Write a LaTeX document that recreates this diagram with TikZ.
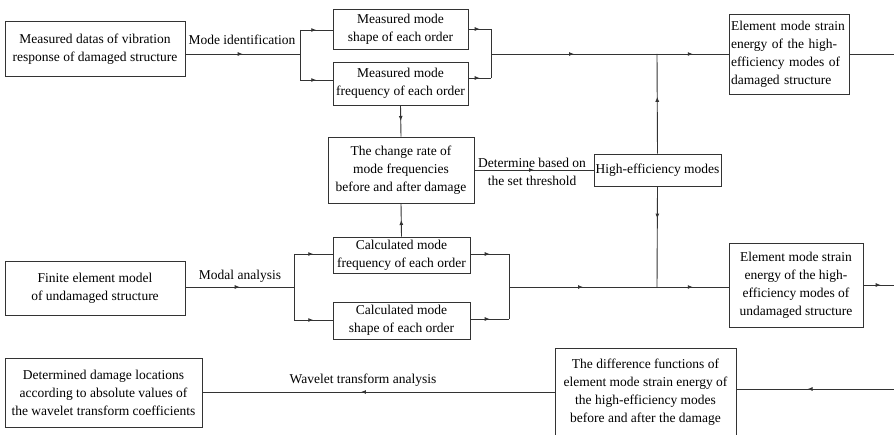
\documentclass[tikz,border=0pt]{standalone}
\usepackage{fontspec}
\setmainfont{Liberation Serif}
\usepackage{tikz}
\usetikzlibrary{arrows.meta, decorations.markings}

\tikzset{
  box/.style={draw=black!80, line width=0.9pt, align=center, inner sep=0pt, font=\fontsize{13.5}{18}\selectfont},
  lbl/.style={inner sep=0pt, align=center, font=\fontsize{13.5}{18}\selectfont},
  ln/.style={draw=black!80, line width=0.9pt},
  flow/.style={ln, postaction={decorate}, decoration={markings, mark=at position #1 with {\arrow{Latex[length=5pt,width=4pt]}}}},
  flow/.default=0.5
}

\begin{document}
\begin{tikzpicture}[x=1pt, y=-1pt]
\useasboundingbox (0,0) rectangle (894,435);

\node[box, minimum width=180, minimum height=55] (meas) at (95,49) {Measured datas of vibration\\response of damaged structure};
\node[box, minimum width=135, minimum height=40] (mshape) at (400.5,29) {Measured mode\\shape of each order};
\node[box, minimum width=135, minimum height=43] (mfreq) at (400.5,83.5) {Measured mode\\frequency of each order};
\node[box, minimum width=146, minimum height=66] (rate) at (401,170) {The change rate of\\mode frequencies\\before and after damage};
\node[box, minimum width=127, minimum height=32] (high) at (657.5,170) {High-efficiency modes};
\node[box, minimum width=120, minimum height=80, text width=116, align=left] (edam) at (789,54) {Element mode strain\\energy of the high-\\efficiency modes of\\damaged structure};

\node[box, minimum width=180, minimum height=54] (fem) at (95,288) {Finite element model\\of undamaged structure};
\node[box, minimum width=137, minimum height=36] (cfreq) at (401.5,255) {Calculated mode\\frequency of each order};
\node[box, minimum width=137, minimum height=37] (cshape) at (401.5,320.5) {Calculated mode\\shape of each order};
\node[box, minimum width=134, minimum height=84] (eund) at (796,285) {Element mode strain\\energy of the high-\\efficiency modes of\\undamaged structure};

\node[box, minimum width=181, minimum height=88] (diff) at (645.5,392) {The difference functions of\\element mode strain energy of\\the high-efficiency modes\\before and after the damage};
\node[box, minimum width=197, minimum height=69] (loc) at (103.5,392.5) {Determined damage locations\\according to absolute values of\\the wavelet transform coefficients};

\node[lbl] (modeid) at (242,40) {Mode identification};
\node[lbl] (thresh) at (532,172) {Determine based on\\the set threshold};
\node[lbl] (modal) at (240,276) {Modal analysis};
\node[lbl] (wave) at (363,380) {Wavelet transform analysis};

\coordinate (s1) at (300,54);
\coordinate (s1a) at (300,30);
\coordinate (s1b) at (300,80);
\coordinate (m1) at (491,54);
\coordinate (m1a) at (491,29);
\coordinate (m1b) at (491,78);
\coordinate (j1) at (657,54);
\coordinate (s2) at (294,287);
\coordinate (s2a) at (294,254);
\coordinate (s2b) at (294,320);
\coordinate (m2) at (509,287);
\coordinate (m2a) at (509,254);
\coordinate (m2b) at (509,319);
\coordinate (j2) at (657,287);
\coordinate (r1) at (898,54);
\coordinate (r2) at (898,285);
\coordinate (r3) at (898,389);

\draw[flow] (meas.east |- s1) -- (s1);
\draw[ln] (s1a) -- (s1b);
\draw[flow] (s1a) -- (s1a -| mshape.west);
\draw[flow] (s1b) -- (s1b -| mfreq.west);
\draw[flow] (mshape.east |- m1a) -- (m1a);
\draw[flow] (mfreq.east |- m1b) -- (m1b);
\draw[ln] (m1a) -- (m1b);
\draw[flow] (m1) -- (j1);
\draw[flow] (j1) -- (j1 -| edam.west);
\draw[flow=0.57] (high.north) -- (j1);
\draw[flow=0.32] (high.south) -- (j2);
\draw[flow] (mfreq.south) -- (rate.north);
\draw[flow] (cfreq.north) -- (rate.south);
\draw[flow] (rate.east) -- (high.west);

\draw[flow] (fem.east |- s2) -- (s2);
\draw[ln] (s2a) -- (s2b);
\draw[flow] (s2a) -- (s2a -| cfreq.west);
\draw[flow] (s2b) -- (s2b -| cshape.west);
\draw[flow] (cfreq.east |- m2a) -- (m2a);
\draw[flow] (cshape.east |- m2b) -- (m2b);
\draw[ln] (m2a) -- (m2b);
\draw[flow] (m2) -- (j2);
\draw[flow] (j2) -- (j2 -| eund.west);

\draw[ln] (edam.east |- r1) -- (r1);
\draw[flow] (eund.east) -- (r2);
\draw[flow] (r1) -- (r2);
\draw[ln] (r2) -- (r3);
\draw[flow=0.56] (r3) -- (r3 -| diff.east);
\draw[flow=0.55] (diff.west) -- (diff.west -| loc.east);
\end{tikzpicture}
\end{document}
